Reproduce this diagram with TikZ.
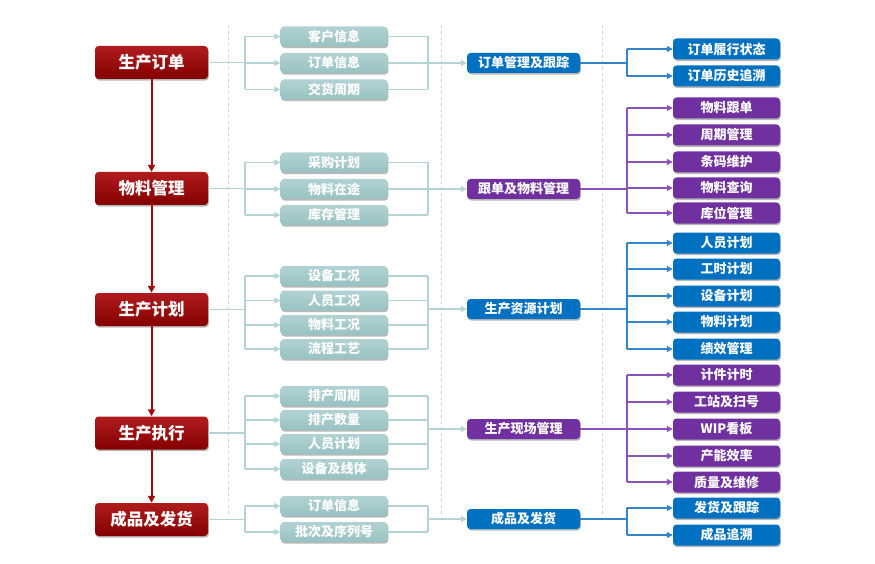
\documentclass[tikz,border=0pt]{standalone}
\usepackage{fontspec}
\newfontfamily\cjk{Noto Sans CJK SC}
\usetikzlibrary{shadows,arrows.meta}
\definecolor{redtop}{RGB}{176,28,30}
\definecolor{redbot}{RGB}{132,0,0}
\definecolor{redline}{RGB}{160,10,14}
\definecolor{tealtop}{RGB}{178,210,210}
\definecolor{tealbot}{RGB}{152,194,194}
\definecolor{tealline}{RGB}{180,212,212}
\definecolor{bluebox}{RGB}{0,112,192}
\definecolor{blueline}{RGB}{52,132,204}
\definecolor{purpbox}{RGB}{112,48,160}
\definecolor{purpline}{RGB}{140,82,186}
\definecolor{sepgray}{RGB}{210,210,210}
\begin{document}
\begin{tikzpicture}[x=1pt,y=-1pt,
  box/.style={rounded corners=3.5pt,text=white,inner sep=0pt,
    drop shadow={shadow xshift=0.8pt,shadow yshift=-1.6pt,opacity=0.35,fill=black!80}},
  redbox/.style={box,minimum width=113pt,minimum height=33pt,top color=redtop,bottom color=redbot,
    font=\cjk\bfseries\fontsize{16.5}{18}\selectfont},
  tealbox/.style={box,minimum width=107pt,minimum height=20pt,top color=tealtop,bottom color=tealbot,
    font=\cjk\bfseries\fontsize{13}{15}\selectfont},
  midbox/.style={box,minimum width=113pt,minimum height=20pt,fill=#1,
    font=\cjk\bfseries\fontsize{13}{15}\selectfont},
  rbox/.style={box,minimum width=107pt,minimum height=21pt,fill=#1,
    font=\cjk\bfseries\fontsize{13}{15}\selectfont},
  sep/.style={sepgray,dashed,dash pattern=on 3pt off 3pt,line width=0.8pt},
  tline/.style={tealline,line width=1.3pt},
  tip/.style={-{Triangle[length=6pt,width=6pt]}},
  cline/.style={#1,line width=1.3pt},
  rline/.style={redline,line width=2pt,-{Triangle[length=7pt,width=7pt]}}
]
\useasboundingbox (0,0) rectangle (875,564);

% separators
\foreach \x in {228,441,602} \draw[sep] (\x,25) -- (\x,517);

\coordinate (lbx) at (245,0);
\coordinate (rbx) at (428,0);
\coordinate (qbx) at (627,0);

% red boxes
\node[redbox] (r1) at (151.5,62.5) {生产订单};
\node[redbox] (r2) at (151.5,188.5) {物料管理};
\node[redbox] (r3) at (151.5,309.5) {生产计划};
\node[redbox] (r4) at (151.5,433) {生产执行};
\node[redbox] (r5) at (151.5,519.5) {成品及发货};

% teal boxes
\node[tealbox] (t11) at (334,36.5) {客户信息};
\node[tealbox] (t12) at (334,63) {订单信息};
\node[tealbox] (t13) at (334,89.5) {交货周期};
\node[tealbox] (t21) at (334,162.5) {采购计划};
\node[tealbox] (t22) at (334,189) {物料在途};
\node[tealbox] (t23) at (334,215) {库存管理};
\node[tealbox] (t31) at (334,276) {设备工况};
\node[tealbox] (t32) at (334,300.5) {人员工况};
\node[tealbox] (t33) at (334,325) {物料工况};
\node[tealbox] (t34) at (334,349) {流程工艺};
\node[tealbox] (t41) at (334,396) {排产周期};
\node[tealbox] (t42) at (334,420) {排产数量};
\node[tealbox] (t43) at (334,444) {人员计划};
\node[tealbox] (t44) at (334,469) {设备及线体};
\node[tealbox] (t51) at (334,506) {订单信息};
\node[tealbox] (t52) at (334,532) {批次及序列号};

% middle boxes
\node[midbox=bluebox] (m1) at (523.5,63) {订单管理及跟踪};
\node[midbox=purpbox] (m2) at (523.5,189) {跟单及物料管理};
\node[midbox=bluebox] (m3) at (523.5,309) {生产资源计划};
\node[midbox=purpbox] (m4) at (523.5,429) {生产现场管理};
\node[midbox=bluebox] (m5) at (523.5,519) {成品及发货};

% right boxes
\node[rbox=bluebox] (q11) at (726.5,49) {订单履行状态};
\node[rbox=bluebox] (q12) at (726.5,76) {订单历史追溯};
\node[rbox=purpbox] (q21) at (726.5,108) {物料跟单};
\node[rbox=purpbox] (q22) at (726.5,135) {周期管理};
\node[rbox=purpbox] (q23) at (726.5,162) {条码维护};
\node[rbox=purpbox] (q24) at (726.5,188) {物料查询};
\node[rbox=purpbox] (q25) at (726.5,213) {库位管理};
\node[rbox=bluebox] (q31) at (726.5,243) {人员计划};
\node[rbox=bluebox] (q32) at (726.5,269) {工时计划};
\node[rbox=bluebox] (q33) at (726.5,296) {设备计划};
\node[rbox=bluebox] (q34) at (726.5,322) {物料计划};
\node[rbox=bluebox] (q35) at (726.5,349) {绩效管理};
\node[rbox=purpbox] (q41) at (726.5,375) {计件计时};
\node[rbox=purpbox] (q42) at (726.5,402) {工站及扫号};
\node[rbox=purpbox] (q43) at (726.5,429) {WIP看板};
\node[rbox=purpbox] (q44) at (726.5,456) {产能效率};
\node[rbox=purpbox] (q45) at (726.5,482) {质量及维修};
\node[rbox=bluebox] (q51) at (726.5,508) {发货及跟踪};
\node[rbox=bluebox] (q52) at (726.5,535) {成品追溯};

% red flow arrows
\foreach \a/\b in {r1/r2,r2/r3,r3/r4,r4/r5}
  \draw[rline] (\a.south) -- (\b.north);

% teal connectors
\foreach \g/\n in {1/3,2/3,3/4,4/4,5/2} {
  \draw[tline] (r\g.east) -- (r\g.east -| lbx);
  \draw[tline] (t\g1.west -| lbx) -- (t\g\n.west -| lbx);
  \draw[tline] (t\g1.east -| rbx) -- (t\g\n.east -| rbx);
  \foreach \i in {1,...,\n} {
    \draw[tline,tip] (t\g\i.west -| lbx) -- (t\g\i.west);
    \draw[tline] (t\g\i.east) -- (t\g\i.east -| rbx);
  }
  \draw[tline,tip] (m\g.west -| rbx) -- (m\g.west);
}

% right connectors
\foreach \g/\n/\c in {1/2/blueline,2/5/purpline,3/5/blueline,4/5/purpline,5/2/blueline} {
  \draw[cline=\c] (m\g.east) -- (m\g.east -| qbx);
  \draw[cline=\c] (q\g1.west -| qbx) -- (q\g\n.west -| qbx);
  \foreach \i in {1,...,\n}
    \draw[cline=\c,tip] (q\g\i.west -| qbx) -- (q\g\i.west);
}
\end{tikzpicture}
\end{document}
